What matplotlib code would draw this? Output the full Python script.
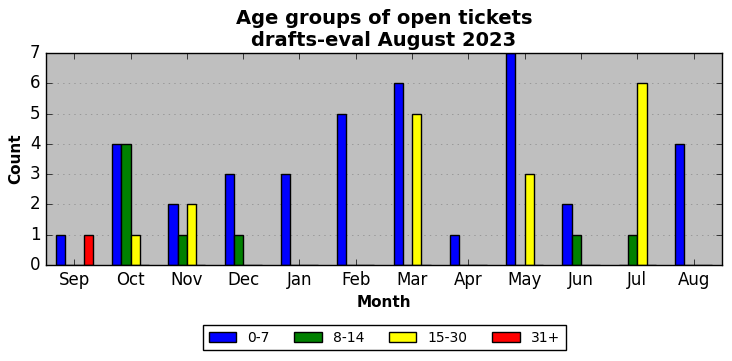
import numpy as np
import matplotlib
matplotlib.use('Agg')
import matplotlib.pyplot as plt

plt.style.use('classic')

months = ['Sep', 'Oct', 'Nov', 'Dec', 'Jan', 'Feb', 'Mar', 'Apr', 'May', 'Jun', 'Jul', 'Aug']
age_0_7 = [1, 4, 2, 3, 3, 5, 6, 1, 7, 2, 0, 4]
age_8_14 = [0, 4, 1, 1, 0, 0, 0, 0, 0, 1, 1, 0]
age_15_30 = [0, 1, 2, 0, 0, 0, 5, 0, 3, 0, 6, 0]
age_31 = [1, 0, 0, 0, 0, 0, 0, 0, 0, 0, 0, 0]

series = [age_0_7, age_8_14, age_15_30, age_31]
labels = ['0-7', '8-14', '15-30', '31+']
colors = ['blue', 'green', 'yellow', 'red']

fig = plt.figure(figsize=(7.32, 3.61), dpi=100, facecolor='white')
ax = fig.add_axes([0.063, 0.266, 0.923, 0.587])
ax.set_facecolor('#bfbfbf')

x = np.arange(len(months))
w = 0.165
for i, (vals, lab, col) in enumerate(zip(series, labels, colors)):
    ax.bar(x + (i - 1.5) * w, vals, w, color=col, edgecolor='black', label=lab, align='center')

ax.set_xlim(-0.5, len(months) - 0.5)
ax.set_ylim(0, 7)
ax.set_xticks(x)
ax.set_xticklabels(months)
ax.yaxis.grid(True, linestyle=':', color='#888888')
ax.set_axisbelow(True)
ax.set_xlabel('Month', fontweight='bold', fontsize=11)
ax.set_ylabel('Count', fontweight='bold', fontsize=11)
ax.set_title('Age groups of open tickets\ndrafts-eval August 2023', fontweight='bold', fontsize=14)

fig.legend(loc='lower center', bbox_to_anchor=(0.525, 0.01), ncol=4, fontsize=10,
           columnspacing=1.75)

fig.savefig('out.png', dpi=100, facecolor='white')
